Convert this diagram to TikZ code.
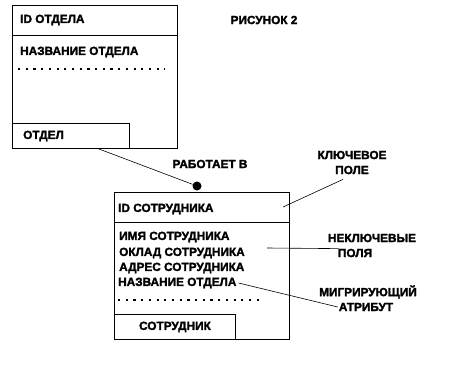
\documentclass[tikz,border=0pt]{standalone}
\usepackage{fontspec}
\setmainfont{Liberation Sans}
\newfontfamily\heavyfont[FakeBold=2]{Liberation Sans Bold}
\usetikzlibrary{positioning}

\tikzset{
  txt/.style={font=\heavyfont\fontsize{11.8}{13}\selectfont, inner sep=0pt},
  entbox/.style={draw, line width=0.9pt, inner sep=0pt, anchor=north west},
  dotrow/.style={line width=2.2pt, dash pattern=on 2.2pt off 5.5pt}
}

\begin{document}
\begin{tikzpicture}[x=1pt,y=-1pt]
\useasboundingbox (0,0) rectangle (450,367);

% department entity
\node[entbox, minimum width=165pt, minimum height=143pt] (dept) at (12,5) {};
\draw[line width=0.9pt] (12,35) -- (177,35);
\node[txt, anchor=west] (deptkey) at (20,20) {ID ОТДЕЛА};
\node[txt, anchor=west] (deptf1) at (20,52) {НАЗВАНИЕ ОТДЕЛА};
\draw[dotrow] (18,69) -- (165,69);
\node[entbox, minimum width=117pt, minimum height=25pt] (deptname) at (12,123) {};
\node[txt, anchor=west] (deptlbl) at (23,136) {ОТДЕЛ};

\node[txt] (title) at (264,20) {РИСУНОК 2};

% relationship
\node[circle, fill, inner sep=0pt, minimum size=9pt] (dot) at (197,186) {};
\draw[line width=0.6pt] (deptname.-25) -- (dot);
\node[txt] (rel) at (210,164) {РАБОТАЕТ В};

% employee entity
\node[entbox, minimum width=175pt, minimum height=147pt] (emp) at (114,192) {};
\draw[line width=0.9pt] (114,222) -- (289,222);
\node[txt, anchor=west] (empkey) at (118,209) {ID СОТРУДНИКА};
\node[txt, anchor=west] (empf1) at (119,237) {ИМЯ СОТРУДНИКА};
\node[txt, anchor=west] (empf2) at (119,253) {ОКЛАД СОТРУДНИКА};
\node[txt, anchor=west] (empf3) at (119,268) {АДРЕС СОТРУДНИКА};
\node[txt, anchor=west] (empf4) at (118,283) {НАЗВАНИЕ ОТДЕЛА};
\draw[dotrow] (118,300) -- (260,300);
\node[entbox, minimum width=121pt, minimum height=25pt] (empname) at (114,314) {};
\node[txt] (emplbl) at (empname) {СОТРУДНИК};

% notes
\node[txt] (key1) at (352,155) {КЛЮЧЕВОЕ};
\node[txt] (key2) at (352,170) {ПОЛЕ};
\coordinate (keyin) at (283,207);
\draw[line width=0.6pt] (keyin) -- ([xshift=8pt,yshift=-5pt]key2.south west);

\node[txt] (nonkey1) at (372,238) {НЕКЛЮЧЕВЫЕ};
\node[txt] (nonkey2) at (355,253) {ПОЛЯ};
\coordinate (nonkeyin) at (267,248);
\draw[line width=0.6pt] (nonkeyin) -- ([xshift=1pt]nonkey2.north west);

\node[txt] (mig1) at (368,292) {МИГРИРУЮЩИЙ};
\node[txt] (mig2) at (366,307) {АТРИБУТ};
\draw[line width=0.6pt] ([xshift=2pt]empf4.east) -- ([xshift=-1pt]mig2.west);

\end{tikzpicture}
\end{document}
